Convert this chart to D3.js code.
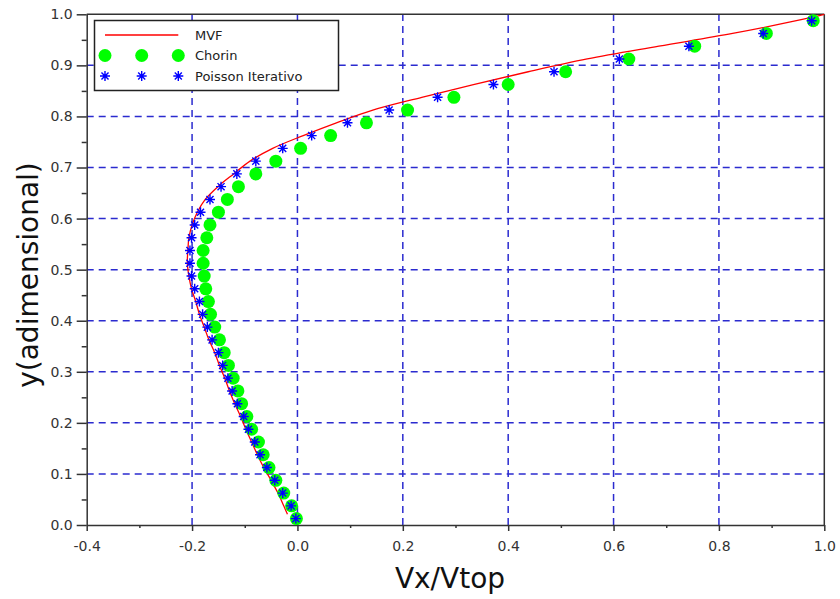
<!DOCTYPE html>
<html>
<head>
<meta charset="utf-8">
<script src="https://cdn.jsdelivr.net/npm/d3@7/dist/d3.min.js"></script>
<style>
html,body{margin:0;padding:0;background:#fff;}
svg{display:block;font-family:"DejaVu Sans",sans-serif;}
</style>
</head>
<body>
<svg id="chart" width="840" height="599"></svg>
<script>
// ---- data ----
const xTicks = [-0.4, -0.2, 0.0, 0.2, 0.4, 0.6, 0.8, 1.0];
const xTickLabels = ["-0.4", "-0.2", "0.0", "0.2", "0.4", "0.6", "0.8", "1.0"];
const xMinorTicks = [-0.3, -0.1, 0.1, 0.3, 0.5, 0.7, 0.9];
const yTicks = [0.0, 0.1, 0.2, 0.3, 0.4, 0.5, 0.6, 0.7, 0.8, 0.9, 1.0];
const yTickLabels = ["0.0", "0.1", "0.2", "0.3", "0.4", "0.5", "0.6", "0.7", "0.8", "0.9", "1.0"];
const yMinorTicks = [0.05, 0.15, 0.25, 0.35, 0.45, 0.55, 0.65, 0.75, 0.85, 0.95];

const seriesNames = ["MVF", "Chorin", "Poisson Iterativo"];

const mvfY = [0.021, 0.0375, 0.0625, 0.0875, 0.1125, 0.1375, 0.1625, 0.1875, 0.2125, 0.2375,
  0.2625, 0.2875, 0.3125, 0.3375, 0.3625, 0.3875, 0.4125, 0.4375, 0.4625, 0.4875,
  0.5125, 0.5375, 0.5625, 0.5875, 0.6125, 0.6375, 0.6625, 0.6875, 0.7125, 0.7375,
  0.7625, 0.7875, 0.8125, 0.8375, 0.8625, 0.8875, 0.9125, 0.9375, 0.9625, 0.9875, 1.0];
const mvfX = [-0.019, -0.026, -0.037, -0.050, -0.064, -0.076, -0.087, -0.098, -0.108, -0.119,
  -0.129, -0.138, -0.148, -0.157, -0.168, -0.177, -0.186, -0.193, -0.201, -0.206,
  -0.209, -0.208, -0.206, -0.200, -0.190, -0.175, -0.151, -0.121, -0.090, -0.047,
  0.011, 0.074, 0.143, 0.236, 0.334, 0.438, 0.550, 0.686, 0.826, 0.947, 1.0];

const nodeY = [0.0125, 0.0375, 0.0625, 0.0875, 0.1125, 0.1375, 0.1625, 0.1875, 0.2125, 0.2375,
  0.2625, 0.2875, 0.3125, 0.3375, 0.3625, 0.3875, 0.4125, 0.4375, 0.4625, 0.4875,
  0.5125, 0.5375, 0.5625, 0.5875, 0.6125, 0.6375, 0.6625, 0.6875, 0.7125, 0.7375,
  0.7625, 0.7875, 0.8125, 0.8375, 0.8625, 0.8875, 0.9125, 0.9375, 0.9625, 0.9875];
const chorinX = [-0.002, -0.011, -0.026, -0.041, -0.054, -0.065, -0.074, -0.087, -0.096, -0.106,
  -0.113, -0.122, -0.131, -0.139, -0.148, -0.157, -0.165, -0.169, -0.174, -0.177,
  -0.179, -0.179, -0.172, -0.166, -0.150, -0.133, -0.112, -0.079, -0.041, 0.006,
  0.063, 0.131, 0.209, 0.297, 0.400, 0.509, 0.629, 0.754, 0.890, 0.979];
const poissonX = [-0.003, -0.012, -0.028, -0.043, -0.058, -0.071, -0.081, -0.093, -0.102, -0.114,
  -0.124, -0.132, -0.142, -0.150, -0.162, -0.171, -0.180, -0.186, -0.195, -0.201,
  -0.204, -0.204, -0.201, -0.195, -0.184, -0.166, -0.145, -0.115, -0.079, -0.028,
  0.027, 0.095, 0.174, 0.266, 0.372, 0.487, 0.611, 0.743, 0.884, 0.976];

// ---- layout ----
const svg = d3.select("#chart");
const x = d3.scaleLinear().domain([-0.4, 1.0]).range([86.7, 824.3]);
const y = d3.scaleLinear().domain([0, 1]).range([525, 14.3]);
const gridColor = "#2b2bcf";
const frameColor = "#333";

// grid
const grid = svg.append("g");
grid.selectAll("line.gx").data(xTicks.slice(1, -1)).join("line")
  .attr("x1", d => x(d)).attr("x2", d => x(d))
  .attr("y1", y(0)).attr("y2", y(1))
  .attr("stroke", gridColor).attr("stroke-width", 1.5).attr("stroke-dasharray", "7,5");
grid.selectAll("line.gy").data(yTicks.slice(1, -1)).join("line")
  .attr("y1", d => y(d)).attr("y2", d => y(d))
  .attr("x1", x(-0.4)).attr("x2", x(1.0))
  .attr("stroke", gridColor).attr("stroke-width", 1.5).attr("stroke-dasharray", "7,5");

// axes
const xAxis = d3.axisBottom(x).tickValues(xTicks).tickSize(6).tickSizeOuter(0)
  .tickFormat((d, i) => xTickLabels[i]).tickPadding(10);
const gx = svg.append("g").attr("transform", `translate(0,${y(0)})`).call(xAxis);
const xMinor = d3.axisBottom(x).tickValues(xMinorTicks).tickSize(3).tickSizeOuter(0).tickFormat("");
const gxm = svg.append("g").attr("transform", `translate(0,${y(0)})`).call(xMinor);
gxm.select(".domain").remove();

const yAxis = d3.axisLeft(y).tickValues(yTicks).tickSize(10).tickSizeOuter(0)
  .tickFormat((d, i) => yTickLabels[i]).tickPadding(4);
const gy = svg.append("g").attr("transform", `translate(${x(-0.4)},0)`).call(yAxis);
const yMinor = d3.axisLeft(y).tickValues(yMinorTicks).tickSize(5).tickSizeOuter(0).tickFormat("");
const gym = svg.append("g").attr("transform", `translate(${x(-0.4)},0)`).call(yMinor);
gym.select(".domain").remove();

[gx, gxm, gy, gym].forEach(g => {
  g.selectAll("line").attr("stroke", frameColor).attr("stroke-width", 1.5);
  g.selectAll(".domain").attr("stroke", frameColor).attr("stroke-width", 1.5);
  g.selectAll("text").attr("font-size", 14).attr("fill", "#333")
    .attr("font-family", "DejaVu Sans, sans-serif");
});

// frame top & right
svg.append("line").attr("x1", x(-0.4)).attr("x2", x(1.0)).attr("y1", y(1)).attr("y2", y(1))
  .attr("stroke", frameColor).attr("stroke-width", 1.5);
svg.append("line").attr("x1", x(1.0)).attr("x2", x(1.0)).attr("y1", y(1)).attr("y2", y(0))
  .attr("stroke", frameColor).attr("stroke-width", 1.5);

// MVF line
const mvf = mvfY.map((v, i) => [mvfX[i], v]);
svg.append("path").datum(mvf)
  .attr("d", d3.line().x(d => x(d[0])).y(d => y(d[1])).curve(d3.curveCatmullRom))
  .attr("fill", "none").attr("stroke", "#ff0000").attr("stroke-width", 1.3);

// Chorin circles
const chorin = nodeY.map((v, i) => [chorinX[i], v]);
svg.append("g").selectAll("circle").data(chorin).join("circle")
  .attr("cx", d => x(d[0])).attr("cy", d => y(d[1])).attr("r", 6.5)
  .attr("fill", "#00ff00");

// Poisson stars
function star(g, cx, cy, s) {
  const a = s * 0.7071;
  const p = `M${cx - s},${cy}L${cx + s},${cy}M${cx},${cy - s}L${cx},${cy + s}` +
    `M${cx - a},${cy - a}L${cx + a},${cy + a}M${cx - a},${cy + a}L${cx + a},${cy - a}`;
  g.append("path").attr("d", p).attr("stroke", "#0000ff").attr("stroke-width", 1.4).attr("fill", "none");
}
const poisson = nodeY.map((v, i) => [poissonX[i], v]);
const gs = svg.append("g");
poisson.forEach(d => star(gs, x(d[0]), y(d[1]), 5));

// legend
const lg = svg.append("g");
lg.append("rect").attr("x", 94.5).attr("y", 20.5).attr("width", 244).attr("height", 70)
  .attr("fill", "#fff").attr("stroke", "#222").attr("stroke-width", 1.5);
const legX = [105, 141.7, 178.3];
lg.append("line").attr("x1", legX[0]).attr("x2", legX[2]).attr("y1", 35).attr("y2", 35)
  .attr("stroke", "#ff0000").attr("stroke-width", 1.3);
legX.forEach(cx => lg.append("circle").attr("cx", cx).attr("cy", 55.5).attr("r", 6.5).attr("fill", "#00ff00"));
legX.forEach(cx => star(lg, cx, 76, 5));
const legY = [40, 60, 80.5];
seriesNames.forEach((n, i) => lg.append("text").attr("x", 195).attr("y", legY[i])
  .attr("font-size", 13).attr("fill", "#222").text(n));

// axis titles
svg.append("text").attr("x", 450).attr("y", 588).attr("text-anchor", "middle")
  .attr("font-size", 28).attr("fill", "#111").text("Vx/Vtop");
svg.append("text").attr("transform", "translate(38,275) rotate(-90)").attr("text-anchor", "middle")
  .attr("font-size", 28).attr("fill", "#111").text("y(adimensional)");
</script>
</body>
</html>
